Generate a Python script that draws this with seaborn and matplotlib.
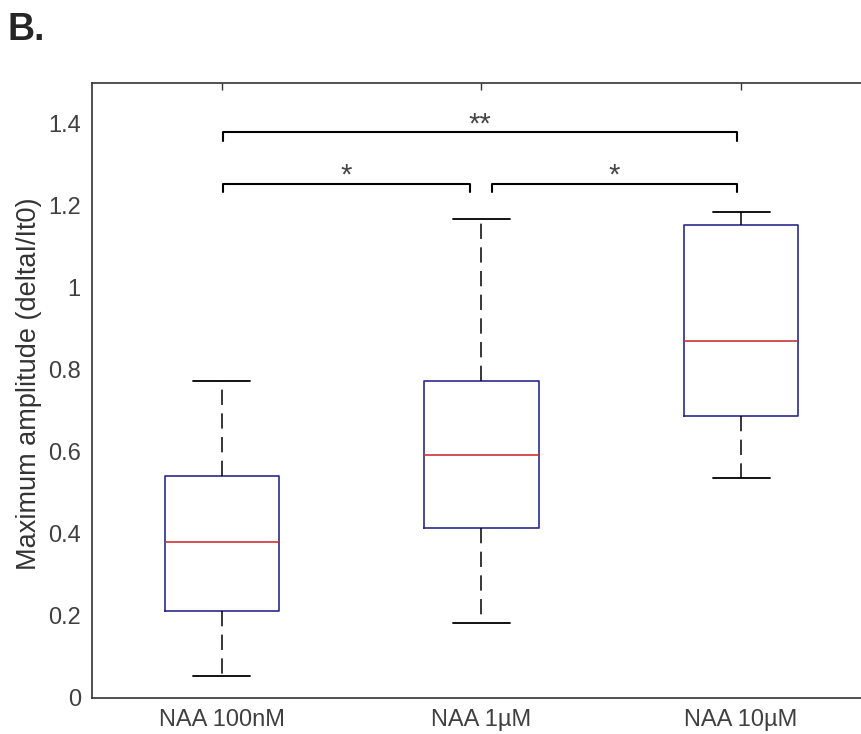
import seaborn as sns
import matplotlib.pyplot as plt
import pandas as pd

# five-number summaries (low whisker, Q1, median, Q3, high whisker)
groups = ['NAA 100nM', 'NAA 1µM', 'NAA 10µM']
naa_100nM = [0.054, 0.211, 0.379, 0.540, 0.773]
naa_1uM = [0.181, 0.414, 0.593, 0.773, 1.167]
naa_10uM = [0.536, 0.687, 0.869, 1.154, 1.185]

# significance brackets: (group a, group b, height, label)
comparisons = [(0, 1, 1.254, '*'), (1, 2, 1.254, '*'), (0, 2, 1.379, '**')]

df = pd.DataFrame({
    'group': [g for g, vals in zip(groups, [naa_100nM, naa_1uM, naa_10uM]) for _ in vals],
    'value': naa_100nM + naa_1uM + naa_10uM,
})

sns.set_style('white')
plt.rcParams['font.family'] = ['Liberation Sans', 'DejaVu Sans']

fig = plt.figure(figsize=(8.62, 7.34), dpi=100)
ax = fig.add_axes([0.1067, 0.0495, 0.9037, 0.8378])

sns.boxplot(x='group', y='value', data=df, order=groups, width=0.44, fill=False,
            whis=1.5, showfliers=False, ax=ax,
            boxprops={'color': '#2b2b8c', 'linewidth': 1.2},
            medianprops={'color': '#cc3333', 'linewidth': 1.2},
            whiskerprops={'color': 'black', 'linewidth': 1.1, 'linestyle': (0, (10, 5.5))},
            capprops={'color': 'black', 'linewidth': 1.3})

# brackets
for a, b, h, lab in comparisons:
    x1 = a + (0.04 if a == 1 else 0.004)
    x2 = b - (0.046 if b == 1 else 0.015)
    ax.plot([x1, x1, x2, x2], [h - 0.021, h, h, h - 0.021], color='black', lw=1.5,
            solid_joinstyle='round')
    ax.text((x1 + x2) / 2, h - 0.014, lab, ha='center', va='bottom', fontsize=21,
            color='#444444')

ax.set_xlim(-0.5, 2.5)
ax.set_ylim(0, 1.5)
ax.set_yticks([0, 0.2, 0.4, 0.6, 0.8, 1, 1.2, 1.4])
ax.set_yticklabels(['0', '0.2', '0.4', '0.6', '0.8', '1', '1.2', '1.4'])
ax.set_xlabel('')
ax.set_ylabel('Maximum amplitude (deltaI/It0)', fontsize=19.5, color='#333333')
ax.yaxis.set_label_coords(-0.064, 0.511)
ax.tick_params(direction='in', top=True, right=False, length=5, width=1, color='#333333',
               labelsize=17, labelcolor='#404040', pad=8)
for name, s in ax.spines.items():
    s.set_visible(name != 'right')
    s.set_color('#333333')
    s.set_linewidth(1.2)

fig.text(0.009, 0.9455, 'B.', fontsize=27, fontweight='bold', va='baseline', ha='left')

plt.savefig('out.png', dpi=100)
